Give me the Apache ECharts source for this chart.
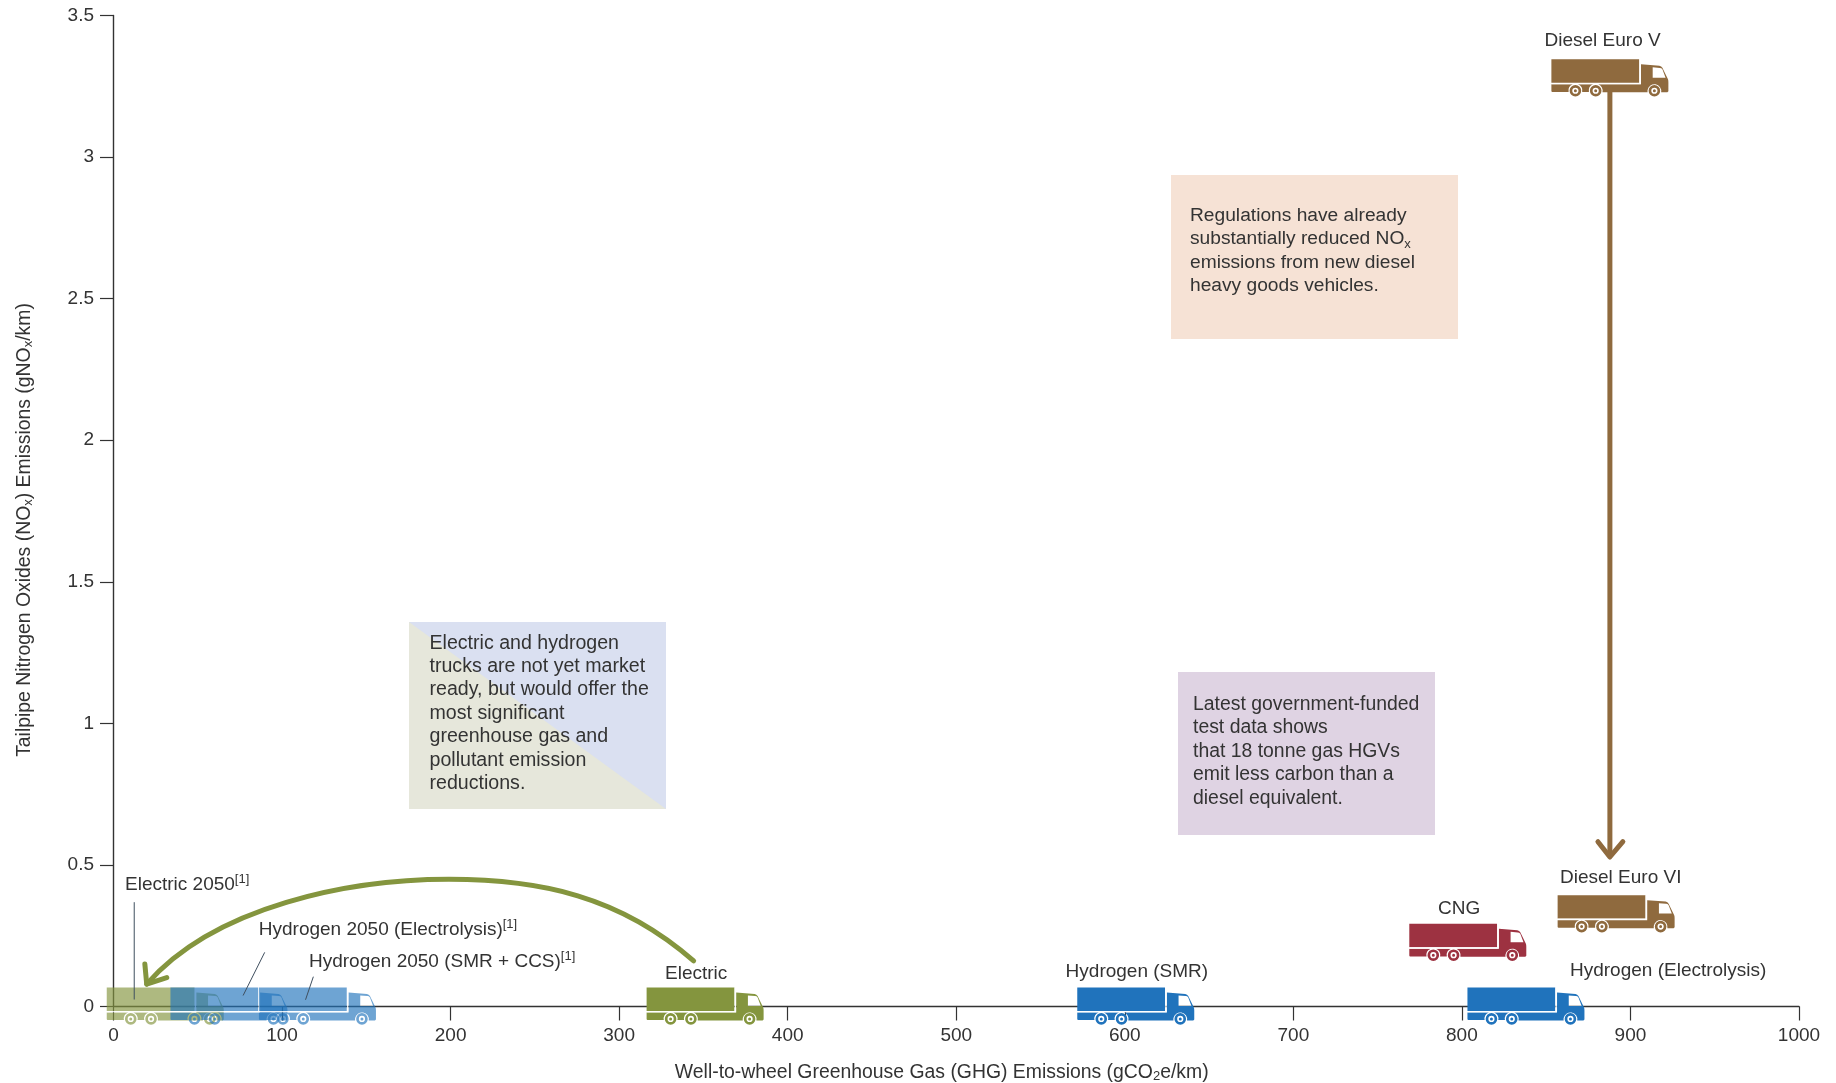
<!DOCTYPE html>
<html>
<head>
<meta charset="utf-8">
<style>html,body{margin:0;padding:0;background:#fff}#c{width:1836px;height:1083px}</style>
<script src="https://cdn.jsdelivr.net/npm/echarts@6/dist/echarts.min.js"></script>
</head>
<body>
<div id="c"></div>
<script>
// ---------- data ----------
const xTicks = [0,100,200,300,400,500,600,700,800,900,1000];
const yTicks = [0,0.5,1,1.5,2,2.5,3,3.5];
const truckNames = ['Electric 2050','Hydrogen 2050 (Electrolysis)','Hydrogen 2050 (SMR + CCS)','Electric','Hydrogen (SMR)','Hydrogen (Electrolysis)','CNG','Diesel Euro VI','Diesel Euro V'];
const truckGHG = [30.7,68.5,121,351,606.5,838,803.5,891.5,887.8];
const truckNOx = [0,0,0,0,0,0,0.225,0.326,3.278];
const truckKinds = ['electricFuture','hydrogenFuture','hydrogenFuture','electric','hydrogen','hydrogen','gas','diesel','diesel'];
const leaderLines = [
  [[12.3,0.367],[12.3,0.026]],
  [[89.6,0.19],[77,0.04]],
  [[118.5,0.104],[114,0.025]]
];
// cubic segments of the curved arrow: start, ctrl, ctrl, end, ctrl, ctrl, end
const electricArc = [[344.2,0.161],[300.4,0.39],[253,0.449],[199,0.449],[140.3,0.449],[60.2,0.355],[19.7,0.079]];
const electricHead = [[18.6,0.15],[19.7,0.079],[31.6,0.102]];
const dieselShaft = [[887.8,3.24],[887.8,0.535]];
const dieselHead = [[880.7,0.582],[887.8,0.528],[895.5,0.582]];

// ---------- styling ----------
const FONT = '"Liberation Sans", Arial, sans-serif';
const INK = '#333333';
const OLIVE = '#84953E', BROWN = '#8F6A3E', BLUE = '#2073BC', RED = '#9D3241';
const kindStyle = {
  electricFuture:{fill:OLIVE,opacity:0.66}, hydrogenFuture:{fill:BLUE,opacity:0.65},
  electric:{fill:OLIVE,opacity:1}, hydrogen:{fill:BLUE,opacity:1}, gas:{fill:RED,opacity:1}, diesel:{fill:BROWN,opacity:1}
};

// truck pictogram, 117 x 38 px, anchored on its centre
function circle(cx,cy,r,cw){const s=cw?1:0;return `M${cx-r} ${cy}A${r} ${r} 0 1 ${s} ${cx+r} ${cy}A${r} ${r} 0 1 ${s} ${cx-r} ${cy}Z`;}
const W1=24,W2=44.3,W3=103,WY=31.4,TOP=25,BOT=32.6,NR=6.9;
const dxB=Math.sqrt(NR*NR-(BOT-WY)*(BOT-WY)), dxT=Math.sqrt(NR*NR-(WY-TOP)*(WY-TOP));
const truckPath = [
  'M0 0H87.8V23.4H0Z',
  `M0 ${TOP}H${W1-dxT}A${NR} ${NR} 0 0 0 ${W1-dxB} ${BOT}H1Q0 ${BOT} 0 ${BOT-1}Z`,
  `M${W1+dxT} ${TOP}H${W2-dxT}A${NR} ${NR} 0 0 0 ${W2-dxB} ${BOT}H${W1+dxB}A${NR} ${NR} 0 0 0 ${W1+dxT} ${TOP}Z`,
  `M${W2+dxT} ${TOP}H89.6V5L108 6.4Q110 6.7 111 8.5L116.6 20Q117 21 117 23V32L116 33H${W3+dxB}A${NR} ${NR} 0 1 0 ${W3-dxB} 33H${W2+dxB}A${NR} ${NR} 0 0 0 ${W2+dxT} ${TOP}Z`,
  'M101.3 8V18.4H114.2L111 10Q110 8.6 108.5 8.6Z',
  ...[W1,W2,W3].flatMap(cx=>[circle(cx,WY,5.8,true),circle(cx,WY,3.1,false),circle(cx,WY,1.5,true)])
].join('');

function renderTruck(params,api){
  const p = api.coord([api.value(0),api.value(1)]);
  const st = kindStyle[truckKinds[params.dataIndex]];
  return {type:'group',x:p[0]-58.5,y:p[1]-19,children:[
    {type:'path',shape:{pathData:truckPath},style:{fill:st.fill,opacity:st.opacity}},
    {type:'polyline',shape:{points:[[88.7,0],[88.7,24.2],[0,24.2]]},style:{fill:null,stroke:'#fff',lineWidth:1.3,opacity:st.opacity<1?0.85:1}}
  ]};
}
function renderArc(params,api){
  const c = electricArc.map(v=>api.coord(v));
  const f = q=>q[0].toFixed(2)+' '+q[1].toFixed(2);
  return {type:'path',shape:{pathData:`M${f(c[0])}C${f(c[1])} ${f(c[2])} ${f(c[3])}C${f(c[4])} ${f(c[5])} ${f(c[6])}`},
    style:{fill:null,stroke:OLIVE,lineWidth:5,lineCap:'round',lineJoin:'round'}};
}
const strokeSeries=(pts,color,width,z)=>({type:'line',data:pts,symbol:'none',z:z,silent:true,animation:false,
  lineStyle:{color:color,width:width,cap:'round',join:'round'}});

// annotation text blocks and labels (text layout, screen pixels)
const textBase={fontFamily:FONT,fontSize:19.2,fill:INK,lineHeight:23.4};
const rich={sub:{fontFamily:FONT,fontSize:13,fill:INK,verticalAlign:'bottom'},sup:{fontFamily:FONT,fontSize:13,fill:INK,verticalAlign:'top'}};
const txt=(x,y,t,size)=>({type:'text',x:x,y:y,z:20,silent:true,style:Object.assign({},textBase,{text:t,rich:rich,verticalAlign:'middle',fontSize:size||19,lineHeight:24})});
const block=(x,y,t,size)=>({type:'text',x:x,y:y,z:20,silent:true,style:Object.assign({},textBase,{text:t,rich:rich,verticalAlign:'top',fontSize:size||19.2})});

const graphicEls=[
  {type:'rect',z:1,shape:{x:1171,y:175,width:287,height:164},style:{fill:'#F6E2D5'}},
  {type:'rect',z:1,shape:{x:1178,y:672,width:257,height:163},style:{fill:'#DFD3E3'}},
  {type:'rect',z:1,shape:{x:409,y:622,width:257,height:187},style:{fill:'#DAE0F1'}},
  {type:'polygon',z:1,shape:{points:[[409,622],[666,809],[409,809]]},style:{fill:'#E6E7DB'}},
  block(429.5,631.5,'Electric and hydrogen\ntrucks are not yet market\nready, but would offer the\nmost significant\ngreenhouse gas and\npollutant emission\nreductions.',19.6),
  block(1190,204,'Regulations have already\nsubstantially reduced NO{sub|x}\nemissions from new diesel\nheavy goods vehicles.'),
  block(1193,693,'Latest government-funded\ntest data shows\nthat 18 tonne gas HGVs\nemit less carbon than a\ndiesel equivalent.',19.4),
  txt(1544.5,41.2,'Diesel Euro V'),
  txt(1560,878.2,'Diesel Euro VI'),
  txt(1438,909.2,'CNG'),
  txt(1570,971.2,'Hydrogen (Electrolysis)'),
  txt(1065.6,972.2,'Hydrogen (SMR)'),
  txt(665,974.2,'Electric'),
  txt(125,885.2,'Electric 2050{sup|[1]}'),
  txt(258.8,930.2,'Hydrogen 2050 (Electrolysis){sup|[1]}'),
  txt(309,962,'Hydrogen 2050 (SMR + CCS){sup|[1]}')
];

const chart=echarts.init(document.getElementById('c'),null,{renderer:'canvas'});
const axisLine={lineStyle:{color:'#333',width:1.4}};
const axisLabel={fontFamily:FONT,fontSize:19,color:INK};
const nameRich={sub:{fontFamily:FONT,fontSize:13,color:INK,verticalAlign:'bottom'}};
chart.setOption({
  animation:false,
  backgroundColor:'#fff',
  grid:{left:113.5,right:37,top:15.5,bottom:76.5,containLabel:false,outerBoundsMode:'none'},
  xAxis:{type:'value',min:xTicks[0],max:xTicks[xTicks.length-1],interval:100,splitLine:{show:false},
    axisLine:axisLine,axisTick:{length:14,lineStyle:{color:'#333',width:1.2}},
    axisLabel:Object.assign({margin:20,formatter:v=>String(v),showMinLabel:true,showMaxLabel:true},axisLabel),
    name:'Well-to-wheel Greenhouse Gas (GHG) Emissions (gCO{sub|2}e/km)',nameLocation:'middle',nameGap:57,nameMoveOverlap:false,
    nameTextStyle:{fontFamily:FONT,fontSize:19.4,color:INK,padding:[0,29,0,0],rich:nameRich}},
  yAxis:{type:'value',min:yTicks[0],max:yTicks[yTicks.length-1],interval:0.5,splitLine:{show:false},
    axisLine:axisLine,axisTick:{length:13.5,lineStyle:{color:'#333',width:1.2}},
    axisLabel:Object.assign({margin:19.5,showMinLabel:true,showMaxLabel:true},axisLabel),
    name:'Tailpipe Nitrogen Oxides (NO{sub|x}) Emissions (gNO{sub|x}/km)',nameLocation:'middle',nameGap:79,nameRotate:90,nameMoveOverlap:false,
    nameTextStyle:{fontFamily:FONT,fontSize:19.4,color:INK,padding:[0,38,0,0],rich:nameRich}},
  graphic:graphicEls,
  series:[
    {type:'custom',name:'Trucks',coordinateSystem:'cartesian2d',renderItem:renderTruck,z:5,silent:true,clip:false,
      data:truckNames.map((n,i)=>({name:n,value:[truckGHG[i],truckNOx[i]]}))},
    ...leaderLines.map(l=>strokeSeries(l,'#3F4F5F',1,6)),
    {type:'custom',name:'Electric trend',coordinateSystem:'cartesian2d',renderItem:renderArc,z:7,silent:true,clip:false,data:[electricArc[0]]},
    strokeSeries(electricHead,OLIVE,5,7),
    strokeSeries(dieselShaft,BROWN,5,7),
    strokeSeries(dieselHead,BROWN,5,7)
  ]
});
</script>
</body>
</html>
